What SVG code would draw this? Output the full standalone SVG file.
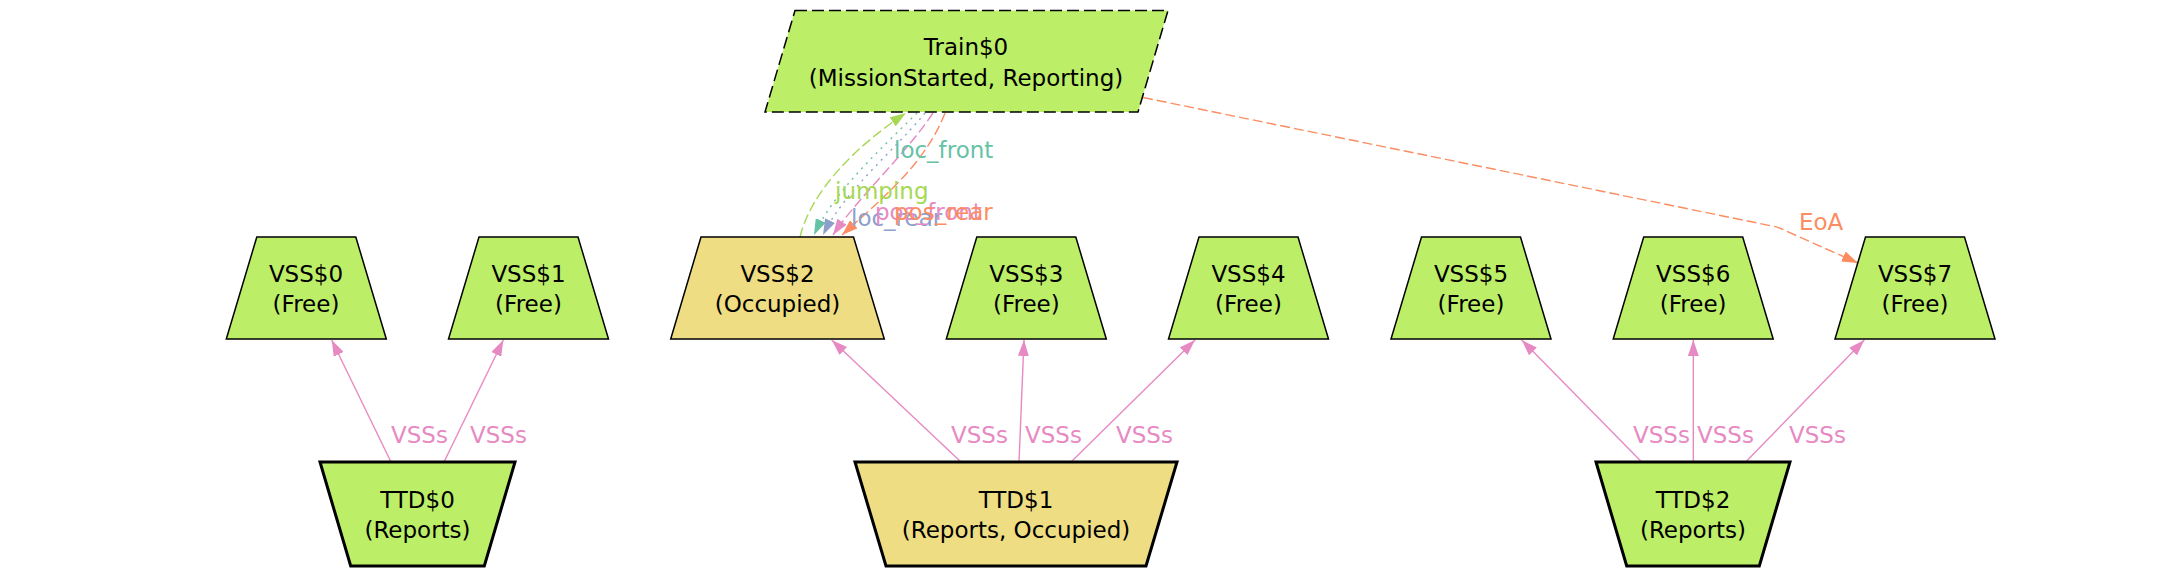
<svg xmlns="http://www.w3.org/2000/svg" width="2160" height="576" viewBox="0 0 2160 576">
<style>
.node{stroke:#000;stroke-width:1.5}
.green{fill:#bcee68}
.gold{fill:#eedd82}
.ttd{stroke-width:3}
.train{stroke-dasharray:12,5}
.t{font-family:"DejaVu Sans",Verdana,sans-serif;font-size:23px;fill:#000;text-anchor:middle}
.lbl{font-family:"DejaVu Sans",Verdana,sans-serif;font-size:23px}
.e{fill:none;stroke-width:1.4}
.pink{stroke:#e78ac3}
.orange{stroke:#fc8d62}
.teal{stroke:#66c2a5}
.blue{stroke:#8da0cb}
.lime{stroke:#a6d854}
.dash{stroke-dasharray:10,4}
.dot{stroke-dasharray:2,5}
</style>
<defs>
<marker id="aPink" viewBox="0 0 16 11" refX="16" refY="5.5" markerWidth="16" markerHeight="11" markerUnits="userSpaceOnUse" orient="auto"><path d="M0,0 L16,5.5 L0,11 z" fill="#e78ac3"/></marker>
<marker id="aOrange" viewBox="0 0 16 11" refX="16" refY="5.5" markerWidth="16" markerHeight="11" markerUnits="userSpaceOnUse" orient="auto"><path d="M0,0 L16,5.5 L0,11 z" fill="#fc8d62"/></marker>
<marker id="aTeal" viewBox="0 0 16 11" refX="16" refY="5.5" markerWidth="16" markerHeight="11" markerUnits="userSpaceOnUse" orient="auto"><path d="M0,0 L16,5.5 L0,11 z" fill="#66c2a5"/></marker>
<marker id="aBlue" viewBox="0 0 16 11" refX="16" refY="5.5" markerWidth="16" markerHeight="11" markerUnits="userSpaceOnUse" orient="auto"><path d="M0,0 L16,5.5 L0,11 z" fill="#8da0cb"/></marker>
<marker id="aLime" viewBox="0 0 16 11" refX="16" refY="5.5" markerWidth="16" markerHeight="11" markerUnits="userSpaceOnUse" orient="auto"><path d="M0,0 L16,5.5 L0,11 z" fill="#a6d854"/></marker>
</defs>
<rect width="2160" height="576" fill="#fff"/>

<g id="connectors">
  <path class="e lime dash" d="M800,237 C810,195 850,150 906,113" marker-end="url(#aLime)"/>
  <path class="e teal dot" d="M917,113 C880,150 835,190 814,235" marker-end="url(#aTeal)"/>
  <path class="e blue dot" d="M925,113 C895,150 845,190 823,235" marker-end="url(#aBlue)"/>
  <path class="e pink dash" d="M933,113 C905,155 860,195 833,235" marker-end="url(#aPink)"/>
  <path class="e orange dash" d="M945,113 C925,165 880,200 842,235" marker-end="url(#aOrange)"/>
  <path class="e orange dash" d="M1143,97.5 L1772,226 C1778,227 1782,229 1786,231 L1858,263" marker-end="url(#aOrange)"/>

  <line class="e pink" x1="391" y1="462" x2="331.7" y2="340" marker-end="url(#aPink)"/>
  <line class="e pink" x1="444" y1="462" x2="503.3" y2="340" marker-end="url(#aPink)"/>
  <line class="e pink" x1="961" y1="462" x2="831.7" y2="340" marker-end="url(#aPink)"/>
  <line class="e pink" x1="1019" y1="462" x2="1024" y2="340" marker-end="url(#aPink)"/>
  <line class="e pink" x1="1071" y1="462" x2="1195" y2="340" marker-end="url(#aPink)"/>
  <line class="e pink" x1="1641.7" y1="462" x2="1521.7" y2="340" marker-end="url(#aPink)"/>
  <line class="e pink" x1="1693.3" y1="462" x2="1693.3" y2="340" marker-end="url(#aPink)"/>
  <line class="e pink" x1="1745.7" y1="462" x2="1864.3" y2="340" marker-end="url(#aPink)"/>

  <g class="lbl">
    <text x="894" y="158" fill="#66c2a5">loc_front</text>
    <text x="835" y="199" fill="#a6d854">jumping</text>
    <text x="851" y="226" fill="#8da0cb">loc_rear</text>
    <text x="875" y="220" fill="#e78ac3">pos_front</text>
    <text x="894" y="220" fill="#fc8d62">pos_rear</text>
    <text x="1799" y="230" fill="#fc8d62">EoA</text>
    <g fill="#e78ac3">
      <text x="391" y="443">VSSs</text>
      <text x="470" y="443">VSSs</text>
      <text x="951" y="443">VSSs</text>
      <text x="1025" y="443">VSSs</text>
      <text x="1116" y="443">VSSs</text>
      <text x="1633" y="443">VSSs</text>
      <text x="1697" y="443">VSSs</text>
      <text x="1789" y="443">VSSs</text>
    </g>
  </g>
</g>

<g id="Train0">
  <polygon class="node green train" points="795,10.5 1168,10.5 1138,112 765,112"/>
  <text class="t" x="966" y="55">Train$0</text>
  <text class="t" x="966" y="86">(MissionStarted, Reporting)</text>
</g>

<g id="VSS0">
  <polygon class="node green" points="256.8,237 355.8,237 386.3,339 226.3,339"/>
  <text class="t" x="306" y="282">VSS$0</text>
  <text class="t" x="306" y="312">(Free)</text>
</g>
<g id="VSS1">
  <polygon class="node green" points="479,237 578,237 608.5,339 448.5,339"/>
  <text class="t" x="528.5" y="282">VSS$1</text>
  <text class="t" x="528.5" y="312">(Free)</text>
</g>
<g id="VSS2">
  <polygon class="node gold" points="701,237 853.5,237 884.3,339 670.7,339"/>
  <text class="t" x="777.5" y="282">VSS$2</text>
  <text class="t" x="777.5" y="312">(Occupied)</text>
</g>
<g id="VSS3">
  <polygon class="node green" points="976.8,237 1075.8,237 1106.3,339 946.3,339"/>
  <text class="t" x="1026.3" y="282">VSS$3</text>
  <text class="t" x="1026.3" y="312">(Free)</text>
</g>
<g id="VSS4">
  <polygon class="node green" points="1199,237 1298,237 1328.5,339 1168.5,339"/>
  <text class="t" x="1248.5" y="282">VSS$4</text>
  <text class="t" x="1248.5" y="312">(Free)</text>
</g>
<g id="VSS5">
  <polygon class="node green" points="1421.5,237 1520.5,237 1551,339 1391,339"/>
  <text class="t" x="1471" y="282">VSS$5</text>
  <text class="t" x="1471" y="312">(Free)</text>
</g>
<g id="VSS6">
  <polygon class="node green" points="1643.7,237 1742.7,237 1773.2,339 1613.2,339"/>
  <text class="t" x="1693.2" y="282">VSS$6</text>
  <text class="t" x="1693.2" y="312">(Free)</text>
</g>
<g id="VSS7">
  <polygon class="node green" points="1865.5,237 1964.5,237 1995,339 1835,339"/>
  <text class="t" x="1915" y="282">VSS$7</text>
  <text class="t" x="1915" y="312">(Free)</text>
</g>

<g id="TTD0">
  <polygon class="node green ttd" points="320,462 515,462 484.3,566 350.7,566"/>
  <text class="t" x="417.5" y="508">TTD$0</text>
  <text class="t" x="417.5" y="538">(Reports)</text>
</g>
<g id="TTD1">
  <polygon class="node gold ttd" points="855,462 1177,462 1146,566 886,566"/>
  <text class="t" x="1016" y="508">TTD$1</text>
  <text class="t" x="1016" y="538">(Reports, Occupied)</text>
</g>
<g id="TTD2">
  <polygon class="node green ttd" points="1596,462 1790,462 1759.3,566 1626.7,566"/>
  <text class="t" x="1693" y="508">TTD$2</text>
  <text class="t" x="1693" y="538">(Reports)</text>
</g>
</svg>
